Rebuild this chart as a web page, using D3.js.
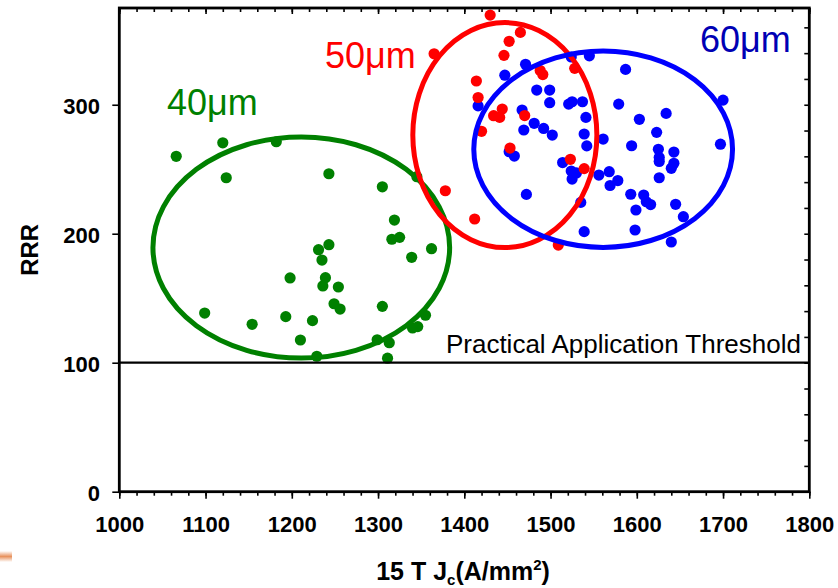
<!DOCTYPE html>
<html>
<head>
<meta charset="utf-8">
<script src="https://cdn.jsdelivr.net/npm/d3@7"></script>
<style>
  body { margin: 0; background: #fff; }
  text { font-family: "Liberation Sans", Arial, sans-serif; }
</style>
</head>
<body>
<svg id="chart" width="838" height="588"></svg>
<script>
// axis ticks
var xTicks = [1000, 1100, 1200, 1300, 1400, 1500, 1600, 1700, 1800];
var yTicks = [0, 100, 200, 300];
var threshold = 100;

// filament size groups
var groups = ["40\u03bcm", "50\u03bcm", "60\u03bcm"];
var groupColors = ["#008000", "#ff0000", "#0000ff"];

// 15 T Jc (A/mm2) vs RRR, one array per group
var wire40 = [
  [1066, 260], [1120, 270.5], [1124, 243.4], [1182, 271.3], [1243, 246.5],
  [1305, 236.4], [1319, 210.6], [1316, 195.7], [1325, 197.2], [1339, 181.7],
  [1362, 188.4], [1345, 244.2], [1231, 187.6], [1243, 191.5], [1235, 179.6],
  [1198, 165.7], [1239, 165.9], [1236, 159.5], [1254, 158.7], [1249, 145.7],
  [1256, 141.6], [1305, 143.7], [1099, 138.5], [1154, 129.8], [1193, 135.7],
  [1224, 132.6], [1210, 117.6], [1229, 105], [1299, 117.8], [1313, 115.5],
  [1311, 103.5], [1340, 126.9], [1346, 128], [1355, 136.8]
];
var wire50 = [
  [1430, 369.5], [1465, 356.1], [1452, 349.2], [1365, 339.5], [1446, 338.3],
  [1528, 328.2], [1488, 326.5], [1491, 323.4], [1414, 318.4], [1416, 305.6],
  [1434, 291.5], [1441, 290.2], [1444, 296.7], [1420, 279.4], [1470, 291.6],
  [1453, 266.4], [1523, 257.7], [1539, 250.5], [1378, 233.3], [1412, 211.4],
  [1509, 191.2]
];
var wire60 = [
  [1524, 337], [1545, 337.9], [1587, 327.4], [1471, 331.4], [1447, 322.9],
  [1484, 311.4], [1499, 311.4], [1499, 301.6], [1521, 300.5], [1525, 302.3],
  [1537, 302.3], [1541, 290.2], [1579, 300.5], [1603, 288.7], [1634, 293.3],
  [1700, 303.6], [1697, 269.4], [1416, 299.1], [1467, 295.9], [1469, 280.4],
  [1481, 285.6], [1492, 281.6], [1502, 276.5], [1539, 277.3], [1542, 268.1],
  [1561, 273.4], [1594, 268.2], [1623, 278.6], [1625, 265.5], [1626, 259.1],
  [1626, 256], [1643, 263.3], [1643, 254.6], [1640, 250.7], [1626, 243.4],
  [1452, 263.6], [1458, 260.2], [1514, 255.2], [1524, 248.6], [1525, 242.4],
  [1530, 247.1], [1556, 245.5], [1568, 248.1], [1569, 237.4], [1578, 241.2],
  [1593, 230.6], [1608, 230], [1611, 224.8], [1616, 222.6], [1599, 218.4],
  [1645, 222.8], [1654, 213.2], [1472, 230.5], [1535, 224.3], [1539, 201.6],
  [1598, 202.9], [1640, 193.6]
];

// ellipse around each group (centre and half-axes in data units)
var ringCx = [1211, 1447, 1561];
var ringCy = [189.3, 276.5, 265.5];
var ringRx = [172, 106.7, 150];
var ringRy = [85.7, 87.2, 76.1];

var svg = d3.select("#chart");
var x = d3.scaleLinear().domain([1000, 1800]).range([119.3, 809.3]);
var y = d3.scaleLinear().domain([0, 375]).range([491.7, 8]);

// dots: blue first, then red, then green
var series = [wire60, wire50, wire40];
var seriesColor = [groupColors[2], groupColors[1], groupColors[0]];
series.forEach(function (pts, i) {
  svg.append("g").selectAll("circle").data(pts).enter().append("circle")
    .attr("cx", function (d) { return x(d[0]); })
    .attr("cy", function (d) { return y(d[1]); })
    .attr("r", 5.6)
    .attr("fill", seriesColor[i]);
});

// ellipses
svg.append("g").selectAll("ellipse").data(ringCx).enter().append("ellipse")
  .attr("cx", function (d) { return x(d); })
  .attr("cy", function (d, i) { return y(ringCy[i]); })
  .attr("rx", function (d, i) { return x(d + ringRx[i]) - x(d); })
  .attr("ry", function (d, i) { return y(ringCy[i] - ringRy[i]) - y(ringCy[i]); })
  .attr("fill", "none")
  .attr("stroke", function (d, i) { return groupColors[i]; })
  .attr("stroke-width", 5);

// group labels
var labelAt = [[167, 115], [325, 67.7], [700, 51.7]];
var labelColor = ["#008000", "#ff0000", "#0000b4"];
svg.append("g").selectAll("text").data(groups).enter().append("text")
  .attr("x", function (d, i) { return labelAt[i][0]; })
  .attr("y", function (d, i) { return labelAt[i][1]; })
  .attr("font-size", 36)
  .attr("fill", function (d, i) { return labelColor[i]; })
  .text(function (d) { return d; });

// threshold line
svg.append("line")
  .attr("x1", x(1000)).attr("x2", x(1800))
  .attr("y1", y(threshold)).attr("y2", y(threshold))
  .attr("stroke", "#000").attr("stroke-width", 2.2);
svg.append("text")
  .attr("x", 801).attr("y", y(threshold) - 9.5)
  .attr("text-anchor", "end")
  .attr("font-size", 26)
  .text("Practical Application Threshold");

// axes
var minorX = d3.range(1000, 1801, 20);
var minorY = d3.range(0, 376, 20);

function styleAxis(g) {
  g.select(".domain").remove();
  g.selectAll(".tick line").attr("stroke", "#000").attr("stroke-width", 1.6);
}

svg.append("g").attr("transform", "translate(0," + y(0) + ")")
  .call(d3.axisBottom(x).tickValues(minorX).tickSize(4).tickFormat(""))
  .call(styleAxis);
svg.append("g").attr("transform", "translate(0," + y(0) + ")")
  .call(d3.axisBottom(x).tickValues(xTicks).tickSize(7).tickPadding(17.7).tickFormat(d3.format("d")))
  .call(styleAxis)
  .selectAll("text").attr("font-size", 22).attr("font-weight", "bold").attr("fill", "#000")
  .attr("font-family", "'Liberation Sans', Arial, sans-serif");

// top edge ticks point inward
svg.append("g").attr("transform", "translate(0," + y(375) + ")")
  .call(d3.axisBottom(x).tickValues(minorX).tickSize(4).tickFormat(""))
  .call(styleAxis);
svg.append("g").attr("transform", "translate(0," + y(375) + ")")
  .call(d3.axisBottom(x).tickValues(xTicks).tickSize(6).tickFormat(""))
  .call(styleAxis);

// right edge ticks point inward
svg.append("g").attr("transform", "translate(" + x(1800) + ",0)")
  .call(d3.axisLeft(y).tickValues(minorY).tickSize(5).tickFormat(""))
  .call(styleAxis);

svg.append("g").attr("transform", "translate(" + x(1000) + ",0)")
  .call(d3.axisLeft(y).tickValues(yTicks).tickSize(7).tickPadding(12.3).tickFormat(d3.format("d")))
  .call(styleAxis)
  .selectAll("text").attr("font-size", 22).attr("font-weight", "bold").attr("fill", "#000")
  .attr("dy", "0.42em")
  .attr("font-family", "'Liberation Sans', Arial, sans-serif");

// frame
svg.append("rect")
  .attr("x", x(1000)).attr("y", y(375))
  .attr("width", x(1800) - x(1000)).attr("height", y(0) - y(375))
  .attr("fill", "none").attr("stroke", "#000").attr("stroke-width", 2.8);

// axis titles
svg.append("text")
  .attr("transform", "translate(38," + ((y(0) + y(375)) / 2) + ") rotate(-90)")
  .attr("text-anchor", "middle")
  .attr("font-size", 24).attr("font-weight", "bold")
  .text("RRR");

var xt = svg.append("text")
  .attr("x", 463).attr("y", 579.5)
  .attr("text-anchor", "middle")
  .attr("font-size", 25).attr("font-weight", "bold");
xt.append("tspan").text("15 T J");
xt.append("tspan").attr("font-size", 15).attr("dy", 5).text("c");
xt.append("tspan").attr("dy", -5).text("(A/mm");
xt.append("tspan").attr("font-size", 15).attr("dy", -10).text("2");
xt.append("tspan").attr("dy", 10).text(")");

// stray orange mark at the lower left edge
var grad = svg.append("defs").append("linearGradient")
  .attr("id", "streak").attr("x1", 0).attr("y1", 0).attr("x2", 0).attr("y2", 1);
grad.append("stop").attr("offset", "0%").attr("stop-color", "#fff");
grad.append("stop").attr("offset", "50%").attr("stop-color", "#e8925e");
grad.append("stop").attr("offset", "100%").attr("stop-color", "#fff");
svg.append("rect").attr("x", 0).attr("y", 551).attr("width", 12).attr("height", 11)
  .attr("fill", "url(#streak)");
</script>
</body>
</html>
